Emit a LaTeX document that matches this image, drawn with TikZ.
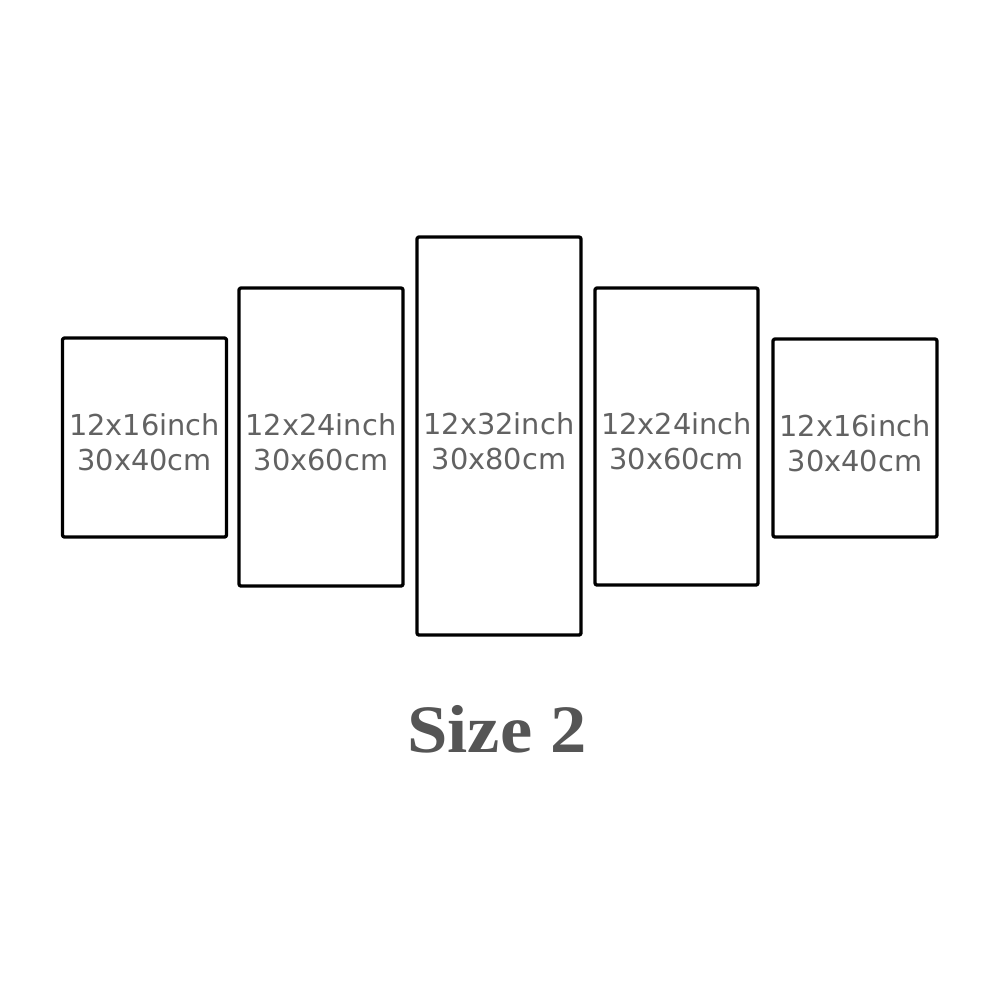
\documentclass[tikz,border=0pt]{standalone}
\usepackage{fontspec}
\setmainfont{Liberation Serif}
\newfontfamily\panelfont{DejaVu Sans}
\definecolor{labelgray}{RGB}{98,98,98}
\definecolor{titlegray}{RGB}{85,85,85}

\begin{document}
\begin{tikzpicture}[x=0.1mm,y=-0.1mm,
  panel/.style={rectangle,draw=black,line width=0.95pt,line join=round,rounded corners=0.2mm,inner sep=0pt},
  sizetext/.style={yshift=-0.5mm,align=center,text=labelgray,font=\panelfont\fontsize{8.2}{10}\selectfont},
  title/.style={anchor=base,text=titlegray,font=\bfseries\fontsize{19.3}{22}\selectfont,xscale=1.07}]
\useasboundingbox[fill=white] (0,0) rectangle (1000,1000);
\node[panel,minimum width=16.4mm,minimum height=19.9mm] (p1) at (144.5,437.5) {};
\node[panel,minimum width=16.4mm,minimum height=29.8mm] (p2) at (321,437) {};
\node[panel,minimum width=16.4mm,minimum height=39.8mm] (p3) at (499,436) {};
\node[panel,minimum width=16.3mm,minimum height=29.7mm] (p4) at (676.5,436.5) {};
\node[panel,minimum width=16.4mm,minimum height=19.8mm] (p5) at (855,438) {};
\node[sizetext] (t1) at (p1.center) {12x16inch\\30x40cm};
\node[sizetext] (t2) at (p2.center) {12x24inch\\30x60cm};
\node[sizetext] (t3) at (p3.center) {12x32inch\\30x80cm};
\node[sizetext] (t4) at (p4.center) {12x24inch\\30x60cm};
\node[sizetext] (t5) at (p5.center) {12x16inch\\30x40cm};
\node[title] (size) at (497,752) {Size 2};
\end{tikzpicture}
\end{document}
